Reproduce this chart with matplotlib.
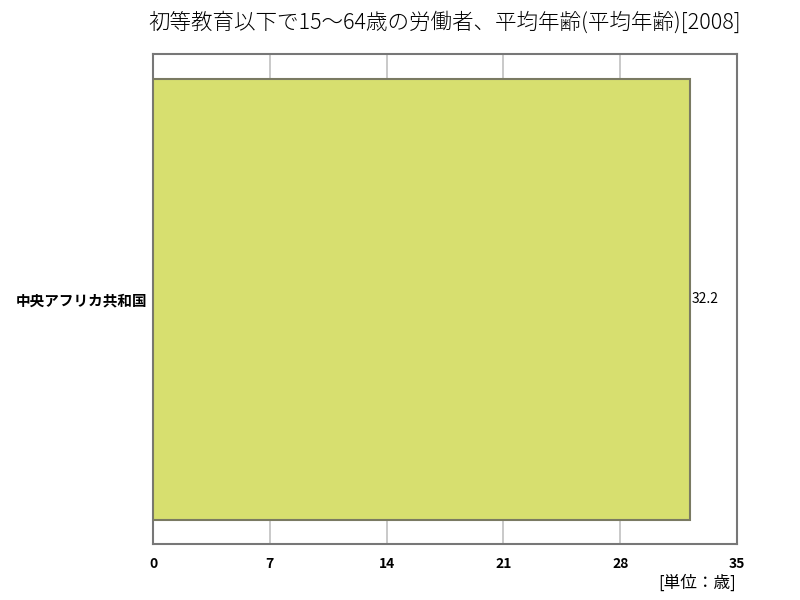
import matplotlib.pyplot as plt

plt.rcParams['font.family'] = ['Noto Sans CJK JP', 'DejaVu Sans']

# データ
countries = ['中央アフリカ共和国']
values = [32.2]
xticks = [0, 7, 14, 21, 28, 35]
title = '初等教育以下で15～64歳の労働者、平均年齢(平均年齢)[2008]'
unit = '[単位：歳]'

fig = plt.figure(figsize=(8, 6), dpi=100)
ax = fig.add_axes([0.19125, 0.0933, 0.73, 0.8167])

ax.barh(countries, values, height=0.9, color='#d7df6f',
        edgecolor='#7a7a62', linewidth=1.5, zorder=3)
ax.set_ylim(-0.5, 0.5)
ax.set_xlim(0, 35)
ax.set_xticks(xticks)
ax.set_xticklabels([str(t) for t in xticks], fontsize=10, fontweight='bold')
ax.tick_params(axis='x', length=0, pad=9)
ax.tick_params(axis='y', length=0, pad=4, labelsize=10.5)
for lab in ax.get_yticklabels():
    lab.set_fontweight('bold')
ax.grid(axis='x', color='#c0c0c0', linewidth=1.2, zorder=0)
for s in ax.spines.values():
    s.set_color('#777777')
    s.set_linewidth(1.5)

for i, v in enumerate(values):
    ax.text(v + 0.1, i, f'{v}', va='center', ha='left', fontsize=10)

fig.text(0.556, 0.962, title, ha='center', va='center', fontsize=15.5,
         fontweight='light')
fig.text(0.92, 0.028, unit, ha='right', va='center', fontsize=12)

plt.savefig('out.png', dpi=100)
